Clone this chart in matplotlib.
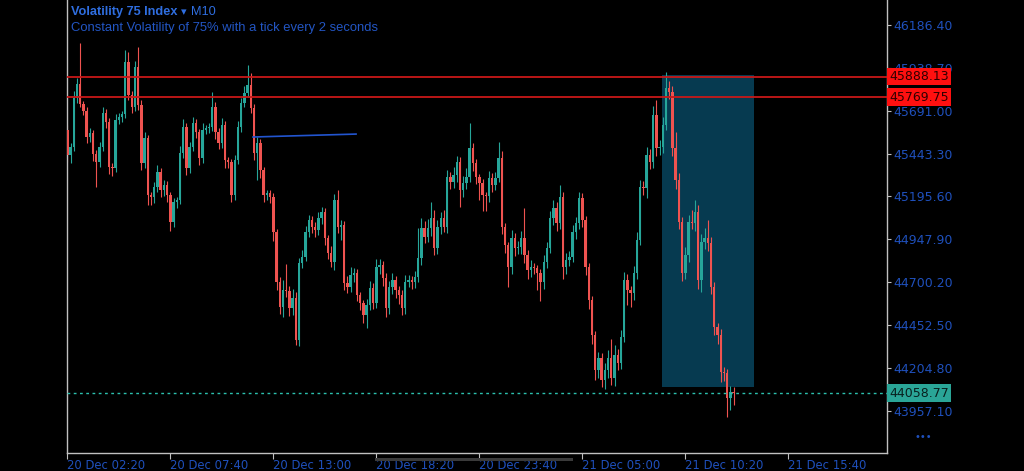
import numpy as np
import pandas as pd
import matplotlib
matplotlib.use("Agg")
import matplotlib.pyplot as plt
from matplotlib.patches import Rectangle

# M10 candles, open of each bar = close of the previous one
first_open = 45580
closes = [
    45435, 45481, 45765, 45845, 45730, 45689, 45539, 45562, 45441, 45395,
    45481, 45678, 45626, 45366, 45360, 45637, 45655, 45672, 45973, 45782,
    45712, 45944, 45724, 45389, 45533, 45204, 45192, 45250, 45337, 45233,
    45262, 45204, 45048, 45163, 45175, 45447, 45597, 45360, 45481, 45620,
    45568, 45418, 45580, 45591, 45597, 45712, 45568, 45504, 45608, 45406,
    45395, 45204, 45406, 45597, 45736, 45793, 45840, 45707, 45447, 45504,
    45348, 45204, 45215, 45192, 44990, 44701, 44556, 44655, 44649, 44551,
    44609, 44366, 44811, 44845, 44990, 45059, 45019, 45002, 45071, 45106,
    44955, 44869, 44817, 45175, 45019, 45030, 44695, 44672, 44741, 44753,
    44626, 44580, 44510, 44568, 44666, 44580, 44788, 44799, 44724, 44551,
    44672, 44713, 44655, 44626, 44551, 44701, 44713, 44701, 44730, 44840,
    45013, 44961, 45013, 45071, 44898, 45019, 45071, 45019, 45308, 45279,
    45319, 45395, 45233, 45273, 45308, 45476, 45389, 45308, 45273, 45204,
    45200, 45302, 45262, 45302, 45418, 45019, 44915, 44788, 44955, 44898,
    44903, 44955, 44857, 44770, 44788, 44782, 44753, 44701, 44817, 44898,
    45071, 45129, 45042, 45192, 44788, 44828, 44845, 44990, 45042, 45187,
    45059, 44788, 44597, 44395, 44192, 44262, 44135, 44192, 44262, 44146,
    44279, 44233, 44383, 44713, 44655, 44637, 44753, 44944, 45250, 45244,
    45435, 45395, 45666, 45476, 45481, 45608, 45822, 45799, 45476, 45291,
    45048, 44753, 44857, 45048, 45042, 45106, 44713, 44932, 44955, 44926,
    44672, 44441, 44395, 44181, 44175, 44031, 44065, 44058.77,
]
upper_wick = [
    30, 25, 40, 35, 237, 20, 25, 30, 20, 25,
    30, 35, 25, 20, 20, 35, 25, 20, 69, 60,
    25, 35, 115, 30, 35, 20, 15, 30, 40, 25,
    30, 20, 15, 25, 20, 40, 45, 25, 30, 35,
    25, 20, 40, 20, 25, 87, 30, 25, 40, 25,
    20, 15, 30, 35, 30, 40, 115, 70, 25, 35,
    25, 20, 20, 15, 25, 20, 30, 60, 150, 30,
    50, 35, 30, 40, 35, 30, 25, 30, 35, 30,
    25, 20, 40, 35, 58, 30, 25, 40, 45, 30,
    25, 20, 15, 35, 40, 30, 45, 35, 25, 30,
    35, 40, 25, 20, 30, 40, 30, 25, 35, 173,
    60, 40, 50, 95, 45, 40, 35, 45, 40, 30,
    45, 35, 30, 40, 50, 145, 30, 25, 20, 25,
    20, 40, 30, 35, 90, 40, 25, 20, 45, 30,
    35, 40, 173, 30, 40, 25, 20, 25, 40, 35,
    40, 45, 35, 70, 30, 40, 35, 40, 35, 35,
    30, 25, 20, 25, 20, 35, 30, 40, 45, 110,
    60, 35, 40, 45, 35, 25, 40, 45, 40, 35,
    45, 35, 50, 87, 40, 45, 93, 40, 35, 90,
    40, 30, 45, 40, 70, 70, 40, 45, 60, 104,
    35, 30, 25, 35, 30, 25, 35, 30,
]
lower_wick = [
    40, 45, 25, 30, 20, 25, 35, 30, 40, 145,
    30, 25, 35, 40, 45, 25, 20, 30, 25, 30,
    35, 25, 30, 40, 30, 60, 45, 35, 30, 40,
    35, 40, 55, 30, 35, 25, 30, 40, 30, 25,
    35, 40, 30, 25, 30, 25, 40, 35, 30, 45,
    35, 40, 30, 25, 30, 25, 20, 30, 40, 156,
    45, 40, 30, 35, 50, 45, 40, 55, 35, 45,
    40, 30, 35, 30, 25, 30, 35, 40, 30, 35,
    40, 35, 30, 45, 35, 75, 40, 35, 30, 40,
    35, 40, 45, 75, 30, 35, 30, 40, 45, 50,
    35, 40, 45, 50, 40, 35, 30, 40, 35, 30,
    40, 35, 30, 45, 40, 35, 40, 30, 35, 40,
    35, 40, 100, 40, 35, 30, 45, 40, 98, 95,
    90, 35, 40, 30, 25, 40, 45, 116, 40, 45,
    35, 40, 45, 50, 40, 35, 100, 110, 40, 35,
    30, 40, 45, 35, 70, 40, 35, 30, 40, 35,
    40, 45, 50, 55, 60, 45, 40, 50, 45, 40,
    45, 40, 35, 30, 87, 80, 40, 35, 30, 40,
    55, 40, 35, 45, 40, 35, 30, 40, 45, 50,
    40, 45, 35, 40, 35, 45, 50, 70, 40, 45,
    40, 45, 50, 60, 45, 110, 70, 70,
]

bar_start = "2023-12-20 02:20"
label_every = 32
n_labels = 8

price_ticks = [46186.40, 45938.70, 45691.00, 45443.30, 45195.60,
               44947.90, 44700.20, 44452.50, 44204.80, 43957.10]
red_levels = [45888.13, 45769.75]
zone_bars = [184.8, 213.3]
zone_prices = [44095, 45900]
trend_bars = [57.7, 89.7]
trend_prices = [45539, 45556]

UP = '#26a69a'
DOWN = '#ef5350'
AXIS_BLUE = '#1f50bc'
FRAME = '#c0c0c0'
HEAD = ['Liberation Sans', 'DejaVu Sans']

closes = np.array(closes, dtype=float)
opens = np.r_[first_open, closes[:-1]]
highs = np.maximum(opens, closes) + np.array(upper_wick)
lows = np.minimum(opens, closes) - np.array(lower_wick)
x = np.arange(len(closes))
up = closes >= opens
cols = np.where(up, UP, DOWN)

fig = plt.figure(figsize=(10.24, 4.71), dpi=100, facecolor='black')
ax = fig.add_axes([67/1024, 18/471, 820/1024, 453/471], facecolor='black')

ax.add_patch(Rectangle((zone_bars[0], zone_prices[0]), zone_bars[1]-zone_bars[0],
                       zone_prices[1]-zone_prices[0], facecolor='#063a50',
                       edgecolor='none', zorder=0.5))

ax.vlines(x, lows, highs, colors=cols, lw=0.8, zorder=2)
body = np.maximum(np.abs(closes - opens), 5)
ax.bar(x, body, bottom=np.minimum(opens, closes), width=0.74, color=cols,
       linewidth=0, zorder=3)

for lvl in red_levels:
    ax.axhline(lvl, color='#c81818', lw=1.3, zorder=4)
ax.axhline(closes[-1], color='#2bbfad', lw=1.0, ls=(0, (2, 2.5)), zorder=4)
ax.plot(trend_bars, trend_prices, color='#2255d0', lw=1.2, zorder=4)

ax.set_xlim(-0.1, 254.66)
ax.set_ylim(43712.6, 46330.9)

# time axis
tick_idx = [k * label_every for k in range(n_labels)]
times = pd.date_range(bar_start, periods=len(closes) + 60, freq='10min')
ax.set_xticks(tick_idx)
ax.set_xticklabels([times[i].strftime('%d %b %H:%M') for i in tick_idx],
                   ha='left', fontsize=8.4)
ax.tick_params(axis='x', colors=FRAME, labelcolor=AXIS_BLUE, length=4, pad=0.5)

ax.yaxis.tick_right()
ax.set_yticks(price_ticks)
ax.set_yticklabels([f'{p:.2f}' for p in price_ticks], fontsize=9)
ax.tick_params(axis='y', colors=FRAME, labelcolor=AXIS_BLUE, length=3, pad=1.5)

for s in ['left', 'right', 'bottom']:
    ax.spines[s].set_color(FRAME)
    ax.spines[s].set_linewidth(1.0)
ax.spines['top'].set_visible(False)

# price labels on the right scale
for lvl in red_levels:
    ax.annotate(f'{lvl:.2f}', xy=(1.003, lvl), xycoords=('axes fraction', 'data'),
                ha='left', va='center', fontsize=9, color='#300000',
                bbox=dict(boxstyle='square,pad=0.18', fc='#ff1010', ec='none'),
                annotation_clip=False, zorder=10)
ax.annotate(f'{closes[-1]:.2f}', xy=(1.003, closes[-1]), xycoords=('axes fraction', 'data'),
            ha='left', va='center', fontsize=9, color='#08201e',
            bbox=dict(boxstyle='square,pad=0.18', fc='#2aa597', ec='none'),
            annotation_clip=False, zorder=10)

# header
fig.text(71/1024, 1 - 12/471, 'Volatility 75 Index', color='#2f6ee0', fontsize=9.2,
         fontweight='bold', family=HEAD, va='center')
fig.text(181/1024, 1 - 12/471, '\u25be', color='#2f6ee0', fontsize=8,
         family=['DejaVu Sans'], va='center')
fig.text(191/1024, 1 - 12/471, 'M10', color='#2f6ee0', fontsize=9.2,
         family=HEAD, va='center')
fig.text(71/1024, 1 - 28/471, 'Constant Volatility of 75% with a tick every 2 seconds',
         color='#2356c4', fontsize=9.4, family=HEAD, va='center')
fig.text(923/1024, 1 - 437/471, '\u2022\u2022\u2022', color=AXIS_BLUE, fontsize=7,
         ha='center', va='center')

# scroll bar under the time scale
fig.patches.append(Rectangle((375/1024, 1 - 461/471), 198/1024, 3/471,
                             transform=fig.transFigure, facecolor='#3a3a3a',
                             edgecolor='none', zorder=0))

fig.savefig('out.png', dpi=100, facecolor='black')
